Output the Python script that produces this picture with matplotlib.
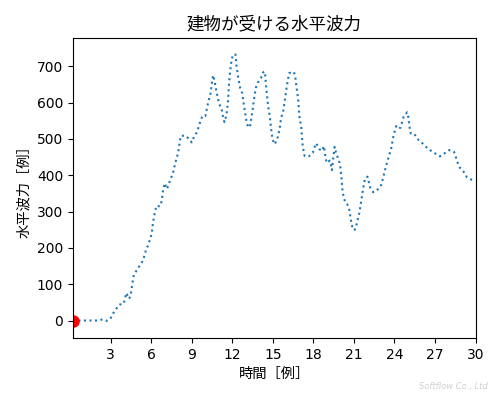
import matplotlib
matplotlib.use("Agg")
import matplotlib.pyplot as plt

# time [s] and horizontal wave force
time = [0.2, 0.65, 1.1, 1.5, 2.0, 2.39, 2.7, 2.98, 3.17, 3.4, 3.67, 3.96, 4.16, 4.36,
        4.46, 4.53, 4.65, 4.73, 4.95, 5.15, 5.39, 5.5, 5.62, 5.79, 5.91, 6.04, 6.13,
        6.21, 6.28, 6.39, 6.63, 6.78, 6.88, 7.0, 7.15, 7.27, 7.39, 7.57, 7.67, 7.76,
        7.87, 7.99, 8.11, 8.19, 8.5, 8.8, 9.0, 9.17, 9.39, 9.52, 9.64, 9.79, 10.0,
        10.09, 10.19, 10.28, 10.39, 10.5, 10.58, 10.68, 10.76, 10.83, 10.93, 11.0,
        11.2, 11.27, 11.35, 11.42, 11.54, 11.61, 11.69, 11.76, 11.84, 11.94, 12.06,
        12.24, 12.31, 12.43, 12.58, 12.73, 12.85, 12.98, 13.05, 13.17, 13.3, 13.37,
        13.5, 13.61, 13.74, 13.89, 14.13, 14.28, 14.41, 14.48, 14.56, 14.65, 14.78,
        14.87, 14.98, 15.13, 15.32, 15.5, 15.61, 15.76, 15.94, 16.06, 16.21, 16.56,
        16.65, 16.76, 16.87, 16.96, 17.1, 17.2, 17.27, 17.35, 17.67, 17.96, 18.09,
        18.21, 18.43, 18.63, 18.78, 18.85, 18.9, 18.98, 19.07, 19.2, 19.32, 19.37,
        19.42, 19.47, 19.57, 19.67, 19.81, 19.94, 20.01, 20.09, 20.16, 20.24, 20.36,
        20.5, 20.63, 20.7, 20.83, 20.93, 21.07, 21.2, 21.3, 21.4, 21.53, 21.66,
        21.81, 22.0, 22.1, 22.2, 22.43, 22.7, 22.98, 23.1, 23.3, 23.52, 23.76,
        23.91, 24.01, 24.13, 24.31, 24.46, 24.56, 24.68, 24.93, 25.02, 25.13, 25.2,
        25.47, 25.69, 26.01, 26.33, 26.63, 27.0, 27.37, 27.69, 28.06, 28.41, 28.56,
        28.68, 28.85, 29.15, 29.37, 29.67, 29.9]
force = [0, 0, 0, 0, 0, 3, -1, 5, 19, 32, 44, 46, 76, 60,
         67, 82, 113, 128, 139, 152, 165, 179, 195, 209, 224, 240, 270,
         285, 301, 316, 314, 329, 360, 378, 362, 371, 386, 401, 415, 431,
         446, 461, 492, 508, 509, 500, 490, 506, 519, 534, 549, 563, 563,
         579, 596, 610, 625, 657, 675, 661, 644, 629, 614, 598,
         584, 569, 554, 546, 562, 577, 608, 655, 686, 716, 732,
         732, 702, 670, 640, 626, 595, 564, 548, 532, 533, 548,
         579, 610, 640, 655, 668, 683, 685, 653, 622, 591, 560,
         528, 498, 485, 498, 527, 558, 574, 620, 651, 681, 684,
         672, 640, 609, 563, 532, 484, 468, 453, 452, 462, 477,
         488, 472, 467, 480, 463, 448, 434, 436, 440, 425, 414,
         430, 446, 478, 463, 448, 434, 418, 387, 356, 340, 325,
         320, 310, 295, 265, 250, 250, 265, 280, 296, 327, 358,
         389, 396, 382, 366, 353, 359, 369, 384, 414, 444, 474,
         505, 520, 535, 528, 531, 546, 561, 573, 561, 529, 515,
         514, 500, 490, 478, 469, 460, 452, 460, 469, 464, 448,
         434, 420, 408, 394, 388, 385]

fig = plt.figure(figsize=(4.99, 3.96), dpi=100)
ax = fig.add_axes([0.146, 0.1465, 0.807, 0.758])

ax.plot(time, force, ":", color="tab:blue")
ax.plot(time[0], force[0], "ro", markersize=8)

jp = ["Noto Sans CJK JP", "DejaVu Sans"]
ax.set_title("建物が受ける水平波力", family=jp, fontsize=12.6)
ax.set_xlabel("時間［例］", family=jp, fontsize=10.3)
ax.set_ylabel("水平波力［例］", family=jp, fontsize=10.3)

ax.set_xlim(0.2, 30)
ax.set_ylim(-48, 778)
ax.set_xticks(range(3, 31, 3))
ax.set_yticks(range(0, 701, 100))

fig.text(0.978, 0.012, "Softflow Co., Ltd", ha="right", va="bottom",
         fontsize=6, style="italic", color="#d0d0d0")

fig.savefig("out.png", dpi=100)
